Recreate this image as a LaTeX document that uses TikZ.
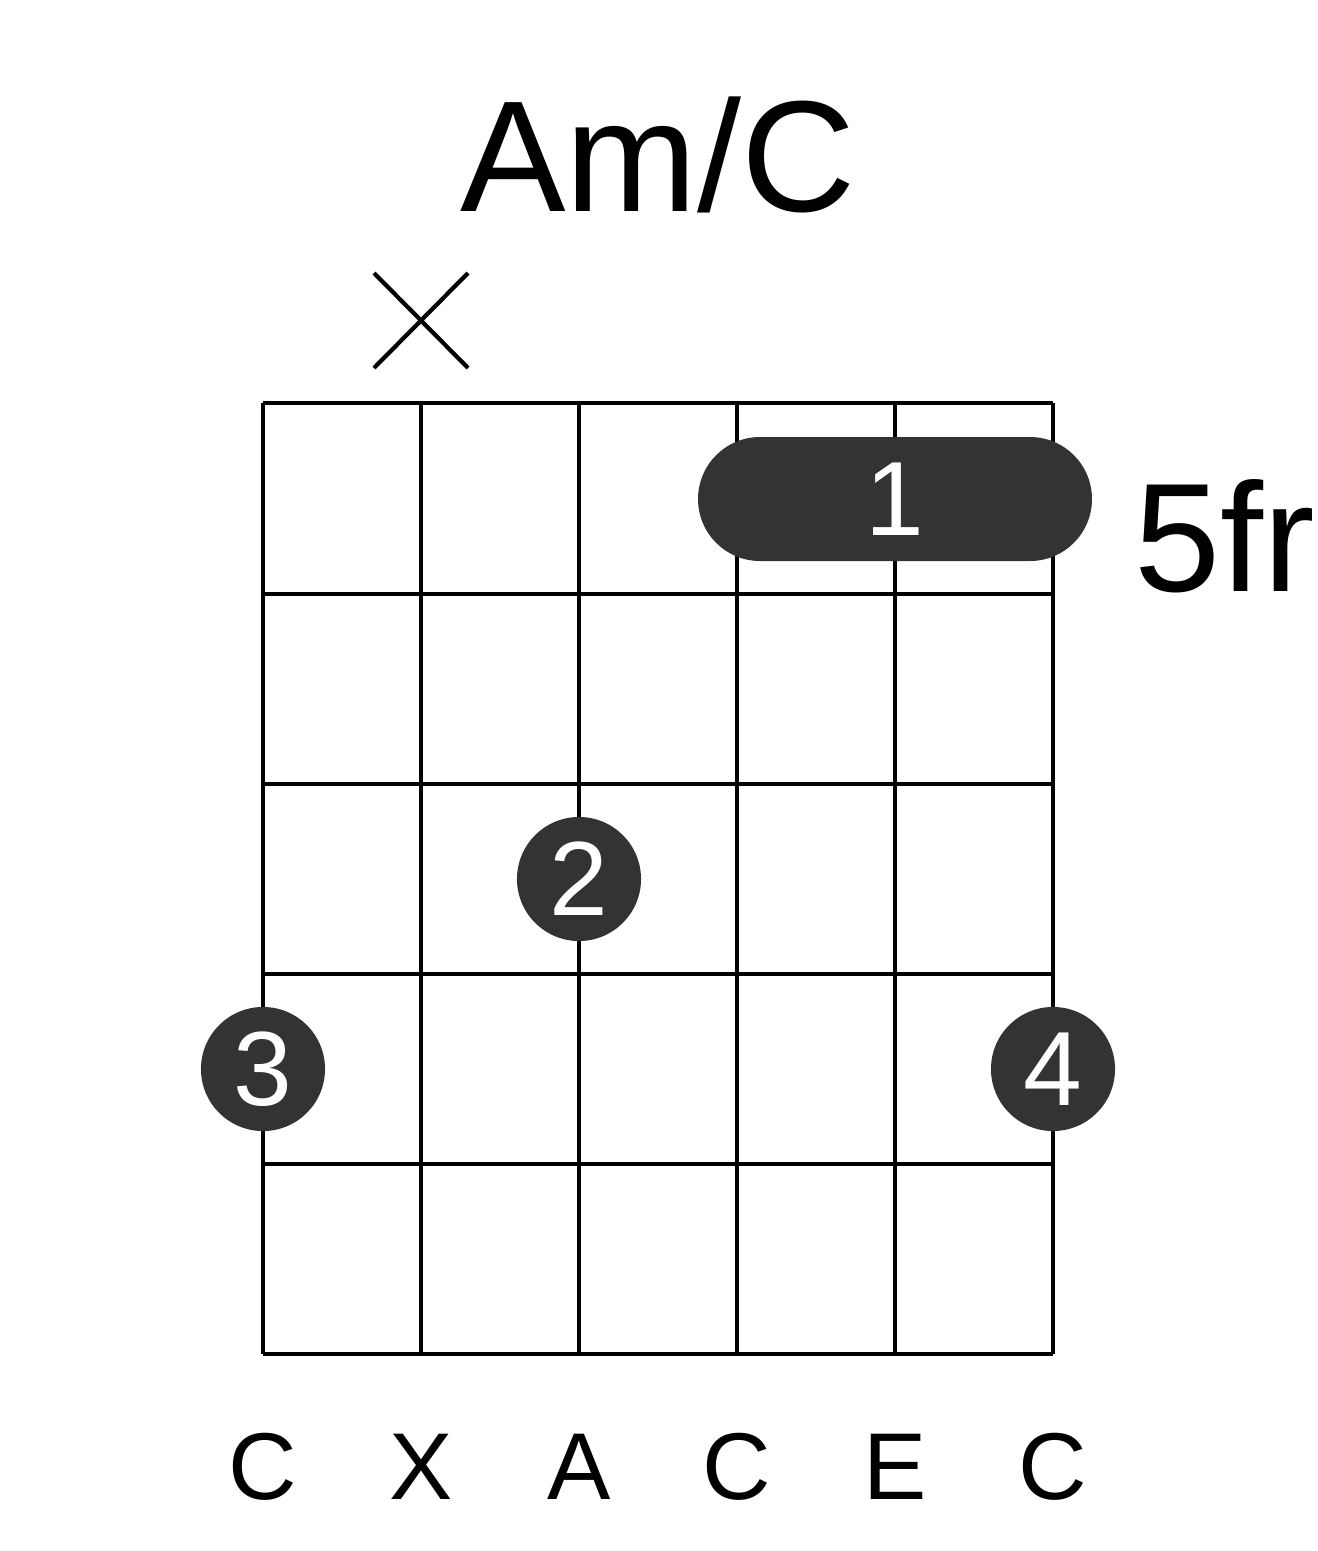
\documentclass[tikz,border=0pt]{standalone}
\usepackage{fontspec}
\setmainfont{Liberation Sans}
\definecolor{dot}{HTML}{333333}
\begin{document}
\begin{tikzpicture}[x=0.01cm,y=-0.01cm,
  grid/.style={line width=1.2pt},
  fing/.style={circle,fill=dot,minimum size=1.24cm,inner sep=0pt,text=white,font=\fontsize{30}{30}\selectfont},
  lab/.style={font=\fontsize{27}{27}\selectfont}]
\useasboundingbox (0,0) rectangle (1317,1551);
\node[font=\fontsize{45}{45}\selectfont] (title) at (658,155) {Am/C};
\foreach \y in {403,594,784,974,1164,1354} \draw[grid] (263,\y) -- (1053,\y);
\foreach \x in {263,421,579,737,895,1053} \draw[grid] (\x,403) -- (\x,1354);
\coordinate (x1) at (374,273); \coordinate (x2) at (468,368);
\coordinate (x3) at (468,273); \coordinate (x4) at (374,368);
\draw[line width=1.2pt] (x1) -- (x2) (x3) -- (x4);
\fill[dot,rounded corners=0.62cm] (698,437) rectangle (1092,561);
\node[text=white,font=\fontsize{30}{30}\selectfont] (b1) at (895,499) {1};
\node[anchor=west,font=\fontsize{44}{44}\selectfont] (fr) at (1122,536) {5fr};
\node[fing] (f2) at (579,879) {2};
\node[fing] (f3) at (263,1069) {3};
\node[fing] (f4) at (1053,1069) {4};
\foreach \x/\t [count=\i] in {263/C,421/X,579/A,737/C,895/E,1053/C}
  \node[lab] (n\i) at (\x,1467) {\t};
\end{tikzpicture}
\end{document}
